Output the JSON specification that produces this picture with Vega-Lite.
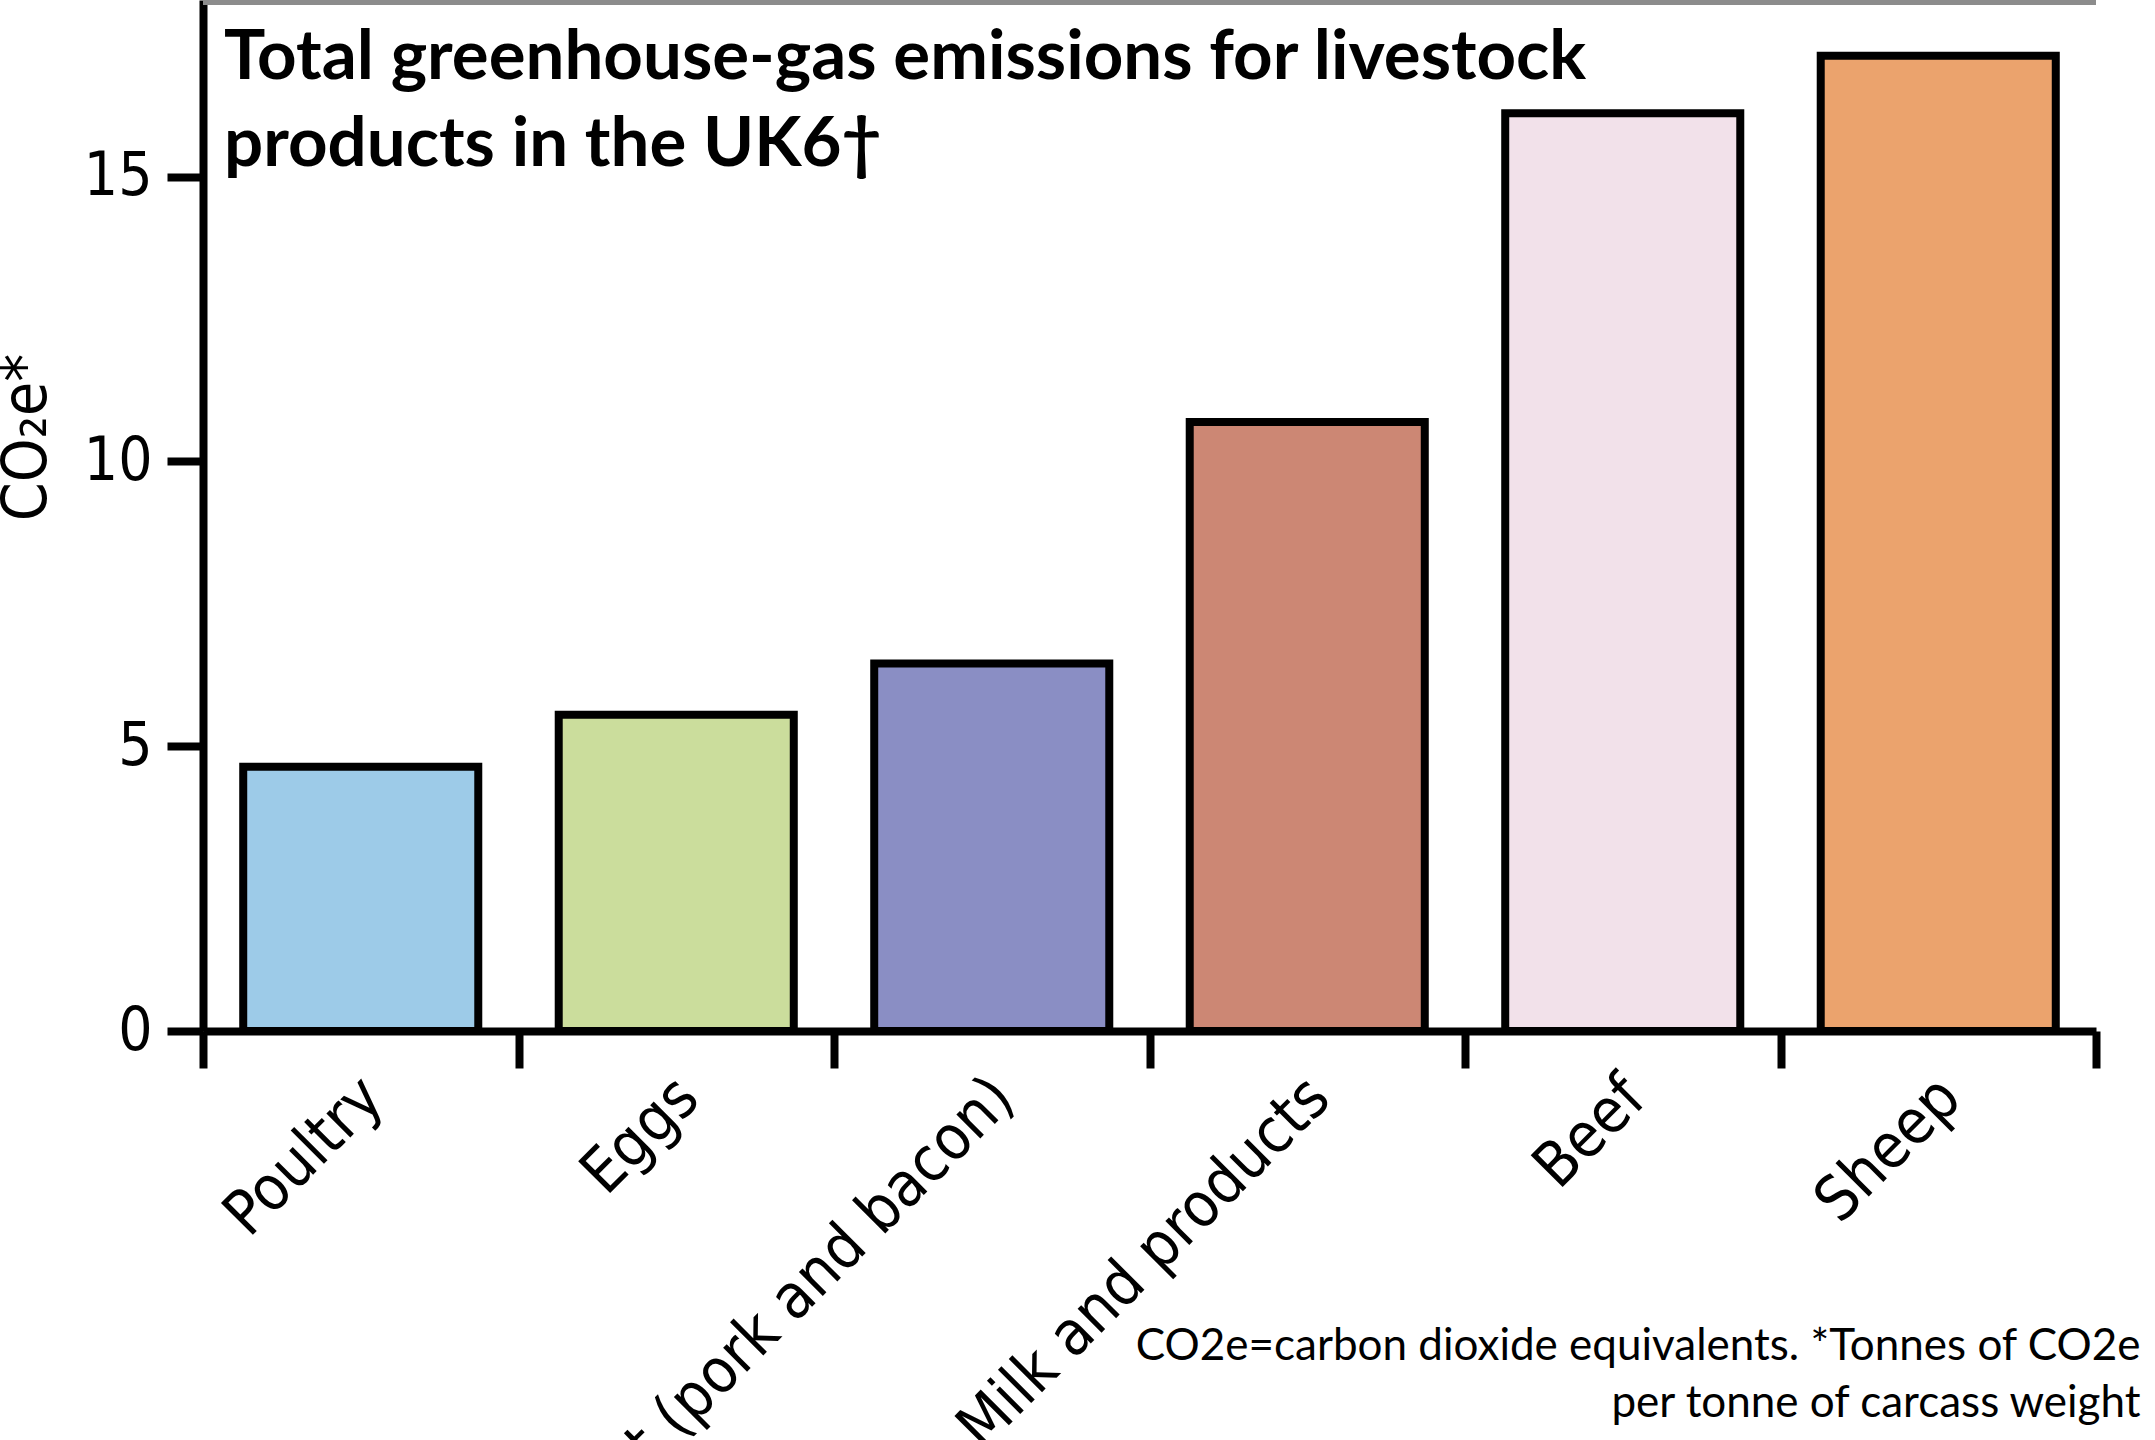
{
  "$schema": "https://vega.github.io/schema/vega-lite/v6.json",
  "width": 1893,
  "height": 1031,
  "autosize": {"type": "none"},
  "padding": {"left": 203, "top": 0, "right": 59, "bottom": 409},
  "background": "white",
  "title": {
    "text": ["Total greenhouse-gas emissions for livestock", "products in the UK6†"],
    "anchor": "start",
    "frame": "group",
    "orient": "top",
    "baseline": "top",
    "offset": -190,
    "dx": 21,
    "dy": -5,
    "font": "Lato",
    "fontSize": 69,
    "fontWeight": "bold",
    "lineHeight": 87,
    "color": "black"
  },
  "data": {
    "values": [
      {"product": "Poultry", "co2e": 4.64},
      {"product": "Eggs", "co2e": 5.55},
      {"product": "Pig meat (pork and bacon)", "co2e": 6.45},
      {"product": "Milk and products", "co2e": 10.69},
      {"product": "Beef", "co2e": 16.11},
      {"product": "Sheep", "co2e": 17.12}
    ]
  },
  "layer": [
    {
      "mark": {"type": "bar", "width": {"band": 0.745}, "stroke": "black", "strokeWidth": 8, "strokeJoin": "miter"},
      "encoding": {
        "x": {
          "field": "product",
          "type": "nominal",
          "sort": null,
          "scale": {"paddingInner": 0, "paddingOuter": 0},
          "axis": {
            "tickBand": "extent",
            "tickSize": 37,
            "tickWidth": 8,
            "tickColor": "black",
            "domainWidth": 8,
            "domainColor": "black",
            "labelAngle": -45,
            "labelAlign": "right",
            "labelBaseline": "alphabetic",
            "labelPadding": 33,
            "labelOffset": 25,
            "labelFont": "DejaVu Sans Condensed, Roboto, sans-serif",
            "labelFontSize": 62,
            "labelColor": "black",
            "labelLimit": 3000,
            "labelOverlap": false,
            "labelBound": false,
            "grid": false,
            "title": ["CO2e=carbon dioxide equivalents. *Tonnes of CO2e", "per tonne of carcass weight"],
            "titleX": 1937,
            "titleY": 328,
            "titleAlign": "right",
            "titleBaseline": "alphabetic",
            "titleLineHeight": 57,
            "titleFont": "Lato",
            "titleFontSize": 44,
            "titleFontWeight": "normal",
            "titleColor": "black"
          }
        },
        "y": {
          "field": "co2e",
          "type": "quantitative",
          "scale": {"domain": [0, 18.1], "nice": false},
          "axis": {
            "values": [0, 5, 10, 15],
            "format": "d",
            "tickSize": 36,
            "tickWidth": 8,
            "tickColor": "black",
            "domainWidth": 8,
            "domainColor": "black",
            "labelFont": "DejaVu Sans Condensed, Roboto, sans-serif",
            "labelFontSize": 60,
            "labelPadding": 15,
            "labelColor": "black",
            "grid": false,
            "title": "CO₂e*",
            "titleX": -158,
            "titleY": 437,
            "titleAngle": -90,
            "titleAlign": "center",
            "titleBaseline": "alphabetic",
            "titleFont": "DejaVu Sans Condensed, Roboto, sans-serif",
            "titleFontSize": 62,
            "titleFontWeight": "normal",
            "titleColor": "black"
          }
        },
        "color": {
          "field": "product",
          "type": "nominal",
          "sort": null,
          "scale": {
            "domain": ["Poultry", "Eggs", "Pig meat (pork and bacon)", "Milk and products", "Beef", "Sheep"],
            "range": ["#9DCBE8", "#CBDD9C", "#8A8EC4", "#CC8774", "#F2E1EA", "#EBA36D"]
          },
          "legend": null
        }
      }
    },
    {
      "mark": {"type": "rule", "stroke": "#8c8c8c", "strokeWidth": 10},
      "encoding": {"y": {"datum": 18.1}}
    }
  ],
  "config": {"view": {"stroke": null}}
}
